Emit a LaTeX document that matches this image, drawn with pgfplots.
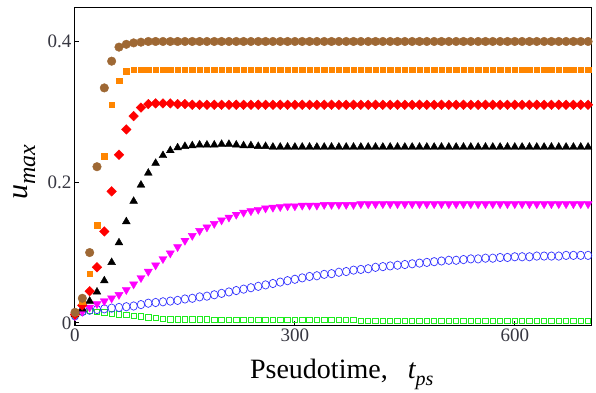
\documentclass[border=0pt]{standalone}
\usepackage{fontspec}
\setmainfont{Liberation Serif}
\usepackage{pgfplots}
\usepackage{pgfplotstable}
\pgfplotsset{compat=1.18}
\definecolor{cbrown}{RGB}{158,104,52}
\definecolor{corange}{RGB}{255,133,0}
\definecolor{cred}{RGB}{255,0,0}
\definecolor{cmag}{RGB}{255,0,255}
\definecolor{cblue}{RGB}{50,50,255}
\definecolor{cgreen}{RGB}{30,235,30}
\definecolor{ctick}{RGB}{55,55,65}
\pgfplotstableread{
t brown orange red black magenta blue green
0 0.015 0.015 0.012 0.012 0.010 0.010 0.010
10 0.035 0.030 0.025 0.020 0.016 0.016 0.016
20 0.100 0.070 0.045 0.031 0.022 0.018 0.017
30 0.222 0.139 0.079 0.044 0.027 0.019 0.016
40 0.334 0.237 0.130 0.060 0.031 0.020 0.015
50 0.372 0.310 0.187 0.086 0.035 0.021 0.013
60 0.392 0.344 0.239 0.114 0.040 0.022 0.012
70 0.396 0.358 0.275 0.144 0.047 0.023 0.011
80 0.398 0.360 0.294 0.173 0.055 0.024 0.010
90 0.399 0.360 0.306 0.196 0.064 0.026 0.009
100 0.400 0.360 0.311 0.213 0.073 0.028 0.008
110 0.400 0.360 0.312 0.227 0.082 0.029 0.007
120 0.400 0.360 0.312 0.238 0.091 0.030 0.006
130 0.400 0.360 0.312 0.245 0.099 0.031 0.005
140 0.400 0.360 0.311 0.249 0.108 0.032 0.005
150 0.400 0.360 0.311 0.251 0.117 0.034 0.005
160 0.400 0.360 0.310 0.252 0.124 0.035 0.005
170 0.400 0.360 0.310 0.253 0.131 0.037 0.005
180 0.400 0.360 0.310 0.253 0.136 0.038 0.005
190 0.400 0.360 0.310 0.253 0.141 0.040 0.004
200 0.400 0.360 0.310 0.254 0.146 0.042 0.004
210 0.400 0.360 0.310 0.254 0.150 0.044 0.004
220 0.400 0.360 0.310 0.253 0.154 0.046 0.004
230 0.400 0.360 0.310 0.252 0.157 0.048 0.004
240 0.400 0.360 0.310 0.252 0.159 0.050 0.004
250 0.400 0.360 0.310 0.251 0.161 0.052 0.004
260 0.400 0.360 0.310 0.251 0.163 0.054 0.004
270 0.400 0.360 0.310 0.250 0.164 0.056 0.004
280 0.400 0.360 0.310 0.250 0.165 0.058 0.004
290 0.400 0.360 0.310 0.250 0.166 0.060 0.004
300 0.400 0.360 0.310 0.250 0.166 0.062 0.004
310 0.400 0.360 0.310 0.250 0.167 0.064 0.004
320 0.400 0.360 0.310 0.250 0.167 0.066 0.004
330 0.400 0.360 0.310 0.250 0.167 0.067 0.004
340 0.400 0.360 0.310 0.250 0.168 0.069 0.004
350 0.400 0.360 0.310 0.250 0.168 0.070 0.004
360 0.400 0.360 0.310 0.250 0.168 0.072 0.004
370 0.400 0.360 0.310 0.250 0.168 0.073 0.004
380 0.400 0.360 0.310 0.250 0.168 0.075 0.004
390 0.400 0.360 0.310 0.250 0.169 0.076 0.003
400 0.400 0.360 0.310 0.250 0.169 0.077 0.003
410 0.400 0.360 0.310 0.250 0.169 0.079 0.003
420 0.400 0.360 0.310 0.250 0.169 0.080 0.003
430 0.400 0.360 0.310 0.250 0.169 0.081 0.003
440 0.400 0.360 0.310 0.250 0.169 0.082 0.003
450 0.400 0.360 0.310 0.250 0.169 0.083 0.003
460 0.400 0.360 0.310 0.250 0.169 0.084 0.003
470 0.400 0.360 0.310 0.250 0.169 0.085 0.003
480 0.400 0.360 0.310 0.250 0.169 0.086 0.003
490 0.400 0.360 0.310 0.250 0.169 0.087 0.003
500 0.400 0.360 0.310 0.250 0.169 0.088 0.003
510 0.400 0.360 0.310 0.250 0.169 0.089 0.003
520 0.400 0.360 0.310 0.250 0.169 0.089 0.003
530 0.400 0.360 0.310 0.250 0.169 0.090 0.003
540 0.400 0.360 0.310 0.250 0.169 0.091 0.003
550 0.400 0.360 0.310 0.250 0.169 0.091 0.003
560 0.400 0.360 0.310 0.250 0.169 0.092 0.003
570 0.400 0.360 0.310 0.250 0.169 0.092 0.003
580 0.400 0.360 0.310 0.250 0.169 0.093 0.003
590 0.400 0.360 0.310 0.250 0.169 0.093 0.003
600 0.400 0.360 0.310 0.250 0.169 0.094 0.003
610 0.400 0.360 0.310 0.250 0.169 0.094 0.003
620 0.400 0.360 0.310 0.250 0.169 0.094 0.003
630 0.400 0.360 0.310 0.250 0.169 0.095 0.003
640 0.400 0.360 0.310 0.250 0.169 0.095 0.003
650 0.400 0.360 0.310 0.250 0.169 0.095 0.003
660 0.400 0.360 0.310 0.250 0.169 0.095 0.003
670 0.400 0.360 0.310 0.250 0.169 0.096 0.003
680 0.400 0.360 0.310 0.250 0.169 0.096 0.003
690 0.400 0.360 0.310 0.250 0.169 0.096 0.003
700 0.400 0.360 0.310 0.250 0.169 0.096 0.003
}\datatable
\begin{document}
\begin{tikzpicture}
\path[use as bounding box] (-75pt,-67pt) rectangle (521pt,325pt);
\begin{axis}[
  at={(0,0)}, anchor=south west,
  scale only axis, width=516pt, height=318pt,
  xmin=0, xmax=704, ymin=-0.003, ymax=0.449,
  xtick={0,300,600}, ytick={0,0.2,0.4},
  yticklabels={0,0.2,0.4},
  xtick pos=bottom, ytick pos=left,
  tick align=inside, major tick length=4pt,
  tick style={black, line width=0.8pt},
  axis line style={black, line width=1pt},
  /pgf/number format/assume math mode=true,
  ticklabel style={font=\fontsize{19}{19}\selectfont, text=ctick},
  xlabel={\fontsize{28}{28}\selectfont Pseudotime,\hspace{0.72em}{\itshape t}\raisebox{-7pt}{\fontsize{20}{20}\selectfont\itshape ps}},
  ylabel={{\fontsize{30}{30}\selectfont\itshape u}\raisebox{-8pt}{\fontsize{24}{24}\selectfont\itshape max}},
  xlabel style={at={(axis description cs:0.517,-0.1667)}, anchor=base, inner sep=0pt},
  ylabel style={at={(axis description cs:-0.093,0.48)}, anchor=base, inner sep=0pt},
  clip=true,
]
\addplot[only marks, mark=square, mark size=2.7pt, cgreen, mark options={line width=0.8pt}] table[x=t, y=green] {\datatable};
\addplot[only marks, mark=o, mark size=4.2pt, cblue, mark options={line width=0.7pt, xscale=0.88}] table[x=t, y=blue] {\datatable};
\addplot[only marks, mark=triangle*, mark size=4.7pt, cmag, mark options={rotate=180, fill=cmag, draw=cmag}] table[x=t, y=magenta] {\datatable};
\addplot[only marks, mark=triangle*, mark size=4.5pt, black, mark options={fill=black, draw=black}] table[x=t, y=black] {\datatable};
\addplot[only marks, mark=square*, mark size=3.4pt, cred, mark options={rotate=45, fill=cred, draw=cred}] table[x=t, y=red] {\datatable};
\addplot[only marks, mark=square*, mark size=2.75pt, corange, mark options={fill=corange, draw=corange}] table[x=t, y=orange] {\datatable};
\addplot[only marks, mark=*, mark size=4.3pt, cbrown, mark options={fill=cbrown, draw=cbrown}] table[x=t, y=brown] {\datatable};
\end{axis}
\end{tikzpicture}
\end{document}
